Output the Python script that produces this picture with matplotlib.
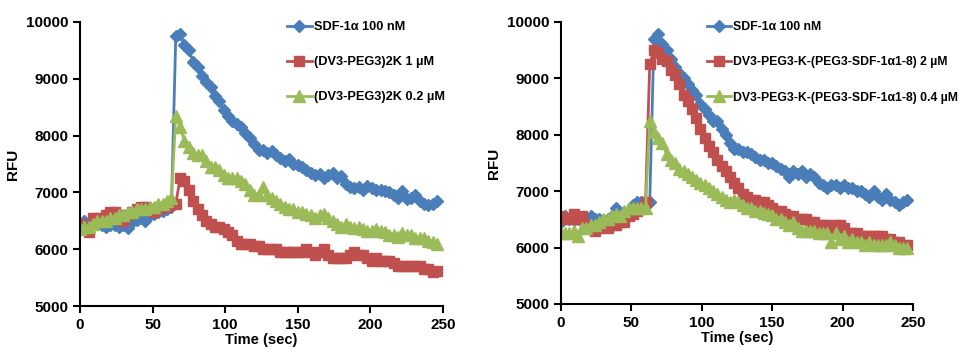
import matplotlib
matplotlib.use("Agg")
import matplotlib.pyplot as plt
import numpy as np

plt.rcParams['font.family'] = ['Liberation Sans', 'DejaVu Sans']
plt.rcParams['font.weight'] = 'bold'

# time axis (sec), one reading every 3 s
time = np.arange(0, 247, 3)

# left panel
left_sdf = [6450, 6500, 6450, 6500, 6450, 6420, 6400, 6420, 6420, 6400,
            6430, 6380, 6480, 6520, 6550, 6500, 6600, 6620, 6650, 6680,
            6700, 6750, 9750, 9780, 9600, 9500, 9300, 9200, 9050, 8950,
            8850, 8700, 8600, 8450, 8350, 8250, 8200, 8150, 8050, 7950,
            7850, 7750, 7750, 7700, 7720, 7650, 7600, 7550, 7580, 7500,
            7480, 7450, 7400, 7350, 7300, 7330, 7250, 7300, 7350, 7250,
            7280, 7150, 7100, 7080, 7100, 7050, 7120, 7080, 7050, 7050,
            7020, 7000, 6950, 6900, 7030, 6880, 6900, 6950, 6850, 6800,
            6780, 6800, 6850]
left_dv3_1 = [6450, 6350, 6300, 6550, 6550, 6500, 6600, 6650, 6650, 6600,
              6500, 6600, 6650, 6700, 6750, 6750, 6700, 6650, 6700, 6750,
              6750, 6800, 6800, 7250, 7200, 7050, 6850, 6700, 6600, 6500,
              6450, 6400, 6400, 6350, 6300, 6250, 6150, 6100, 6100, 6100,
              6050, 6050, 6000, 6000, 6000, 6000, 5950, 5950, 5950, 5950,
              5950, 5950, 6000, 5950, 5900, 5950, 6000, 5900, 5850, 5850,
              5850, 5850, 5900, 5950, 5900, 5900, 5850, 5800, 5850, 5800,
              5800, 5800, 5750, 5700, 5700, 5700, 5700, 5700, 5700, 5650,
              5650, 5600, 5620]
left_dv3_02 = [6350, 6400, 6400, 6450, 6500, 6500, 6500, 6550, 6550, 6600,
               6600, 6650, 6650, 6700, 6700, 6700, 6750, 6750, 6800, 6800,
               6850, 6900, 8350, 8150, 7900, 7800, 7700, 7650, 7650, 7550,
               7450, 7450, 7400, 7300, 7250, 7250, 7250, 7200, 7150, 7050,
               6950, 6950, 7100, 6950, 6900, 6850, 6800, 6750, 6700, 6700,
               6650, 6650, 6620, 6600, 6550, 6600, 6620, 6550, 6500, 6450,
               6400, 6450, 6400, 6380, 6400, 6350, 6330, 6320, 6350, 6330,
               6300, 6250, 6250, 6220, 6280, 6250, 6250, 6200, 6200, 6200,
               6150, 6130, 6100]

# right panel
right_sdf = [6450, 6550, 6500, 6480, 6500, 6480, 6500, 6550, 6500, 6500,
             6450, 6500, 6550, 6700, 6600, 6550, 6650, 6750, 6800, 6800,
             6800, 6800, 9700, 9780, 9600, 9500, 9350, 9200, 9100, 9000,
             8900, 8800, 8700, 8550, 8450, 8350, 8250, 8250, 8100, 8000,
             7850, 7750, 7750, 7700, 7700, 7650, 7600, 7550, 7550, 7500,
             7500, 7450, 7400, 7350, 7250, 7350, 7300, 7350, 7250, 7300,
             7250, 7150, 7100, 7050, 7100, 7100, 7050, 7100, 7050, 7050,
             7000, 7000, 6950, 6900, 7000, 6900, 6850, 6950, 6850, 6800,
             6750, 6800, 6850]
right_conj_2 = [6550, 6500, 6500, 6600, 6500, 6550, 6400, 6350, 6300, 6350,
                6400, 6350, 6400, 6400, 6450, 6450, 6550, 6600, 6650, 6700,
                6800, 9250, 9500, 9450, 9350, 9300, 9150, 9050, 8900, 8700,
                8600, 8450, 8300, 8100, 7950, 7800, 7700, 7550, 7450, 7350,
                7250, 7150, 7050, 6950, 6900, 6850, 6850, 6800, 6800, 6750,
                6700, 6650, 6650, 6600, 6550, 6550, 6500, 6500, 6500, 6450,
                6450, 6400, 6400, 6400, 6350, 6400, 6400, 6350, 6250, 6250,
                6250, 6200, 6200, 6200, 6200, 6200, 6200, 6150, 6150, 6100,
                6100, 6050, 6050]
right_conj_04 = [6250, 6250, 6250, 6300, 6200, 6350, 6350, 6400, 6400, 6450,
                 6500, 6500, 6550, 6600, 6550, 6650, 6700, 6700, 6700, 6700,
                 6700, 8250, 8050, 7950, 7850, 7650, 7550, 7500, 7400, 7350,
                 7300, 7250, 7200, 7150, 7100, 7050, 7000, 6950, 6900, 6850,
                 6800, 6850, 6800, 6750, 6700, 6700, 6650, 6650, 6620, 6600,
                 6580, 6500, 6500, 6450, 6400, 6450, 6350, 6300, 6300, 6300,
                 6300, 6250, 6250, 6250, 6100, 6250, 6150, 6200, 6100, 6150,
                 6100, 6100, 6050, 6100, 6050, 6050, 6050, 6050, 6100, 6050,
                 6000, 6000, 6000]

left_labels = ["SDF-1\u03b1 100 nM", "(DV3-PEG3)2K 1 \u00b5M", "(DV3-PEG3)2K 0.2 \u00b5M"]
right_labels = ["SDF-1\u03b1 100 nM", "DV3-PEG3-K-(PEG3-SDF-1\u03b11-8) 2 \u00b5M",
                "DV3-PEG3-K-(PEG3-SDF-1\u03b11-8) 0.4 \u00b5M"]

colors = ["#4A7EBB", "#C0504D", "#9BBB59"]
markers = ["D", "s", "^"]
msizes = [6, 7.5, 8.5]


def draw_panel(ax, series, labels, legend_x, legend_fs, spacing):
    for vals, lab, c, m, ms in zip(series, labels, colors, markers, msizes):
        ax.plot(time, vals, color=c, marker=m, markersize=ms, lw=2,
                markeredgecolor=c, label=lab)
    ax.set_xlim(0, 250)
    ax.set_ylim(5000, 10000)
    ax.set_xticks(range(0, 251, 50))
    ax.set_yticks(range(5000, 10001, 1000))
    for s in ["top", "right"]:
        ax.spines[s].set_visible(False)
    for s in ["left", "bottom"]:
        ax.spines[s].set_linewidth(1.5)
    ax.tick_params(direction="out", length=5, width=1.5, labelsize=11)
    ax.set_xlabel("Time (sec)", fontsize=10.5, fontweight="bold", labelpad=1)
    ax.set_ylabel("RFU", fontsize=11, fontweight="bold", labelpad=4)
    ax.legend(loc="upper left", bbox_to_anchor=(legend_x, 1.02), frameon=False,
              fontsize=legend_fs, numpoints=1, handlelength=2.0,
              handletextpad=0.15, labelspacing=spacing, borderaxespad=0)


fig = plt.figure(figsize=(9.63, 3.64), dpi=100)
ax1 = fig.add_axes([0.083, 0.159, 0.377, 0.781])
ax2 = fig.add_axes([0.5826, 0.165, 0.3655, 0.775])

draw_panel(ax1, [left_sdf, left_dv3_1, left_dv3_02], left_labels, 0.555, 9.2, 1.8)
draw_panel(ax2, [right_sdf, right_conj_2, right_conj_04], right_labels, 0.40, 8.8, 1.9)

fig.savefig("out.png", dpi=100)
